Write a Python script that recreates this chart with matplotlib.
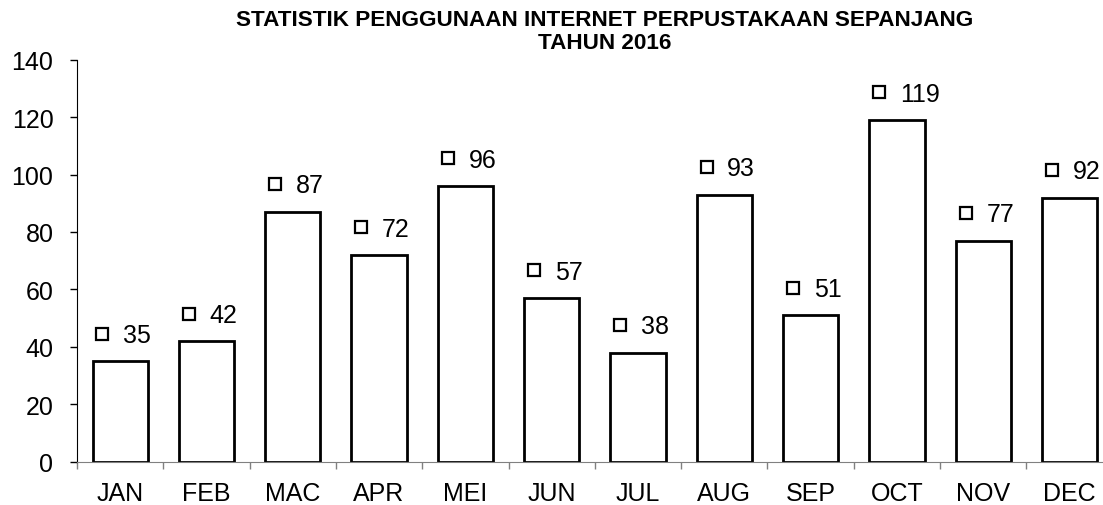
import matplotlib.pyplot as plt
import numpy as np

plt.rcParams['font.family'] = ['Liberation Sans', 'DejaVu Sans']

months = ['JAN', 'FEB', 'MAC', 'APR', 'MEI', 'JUN', 'JUL', 'AUG', 'SEP', 'OCT', 'NOV', 'DEC']
usage = [35, 42, 87, 72, 96, 57, 38, 93, 51, 119, 77, 92]
title = 'STATISTIK PENGGUNAAN INTERNET PERPUSTAKAAN SEPANJANG\nTAHUN 2016'

fig = plt.figure(figsize=(11.03, 5.06), dpi=100)
ax = fig.add_axes([0.0698, 0.0856, 0.939, 0.7945])

x = np.arange(len(months))
ax.bar(x, usage, width=0.64, color='white', edgecolor='black', linewidth=2)

for xi, v in zip(x, usage):
    ax.plot(xi - 0.205, v + 9.6, marker='s', markersize=8, markerfacecolor='white',
            markeredgecolor='black', markeredgewidth=1.6, linestyle='none', clip_on=False)
    ax.text(xi + 0.035, v + 9.2, str(v), fontsize=18, ha='left', va='center')

ax.set_xlim(-0.5, len(months) - 0.5)
ax.set_ylim(0, 140)
ax.set_yticks(range(0, 141, 20))
ax.set_xticks(x)
ax.set_xticklabels(months)
ax.set_xticks(np.arange(-0.5, len(months), 1), minor=True)

ax.spines['top'].set_visible(False)
ax.spines['right'].set_visible(False)
ax.spines['bottom'].set_color('#808080')
ax.spines['left'].set_color('black')

ax.tick_params(axis='y', direction='out', length=5, width=1, labelsize=18, pad=12)
ax.tick_params(axis='x', which='major', length=0, labelsize=18, pad=14)
ax.tick_params(axis='x', which='minor', direction='out', length=5, width=1, color='#808080')

fig.text(0.5485, 0.98, title, ha='center', va='top', fontsize=16.2, fontweight='bold',
         linespacing=1.1)

fig.savefig('out.png', dpi=100)
